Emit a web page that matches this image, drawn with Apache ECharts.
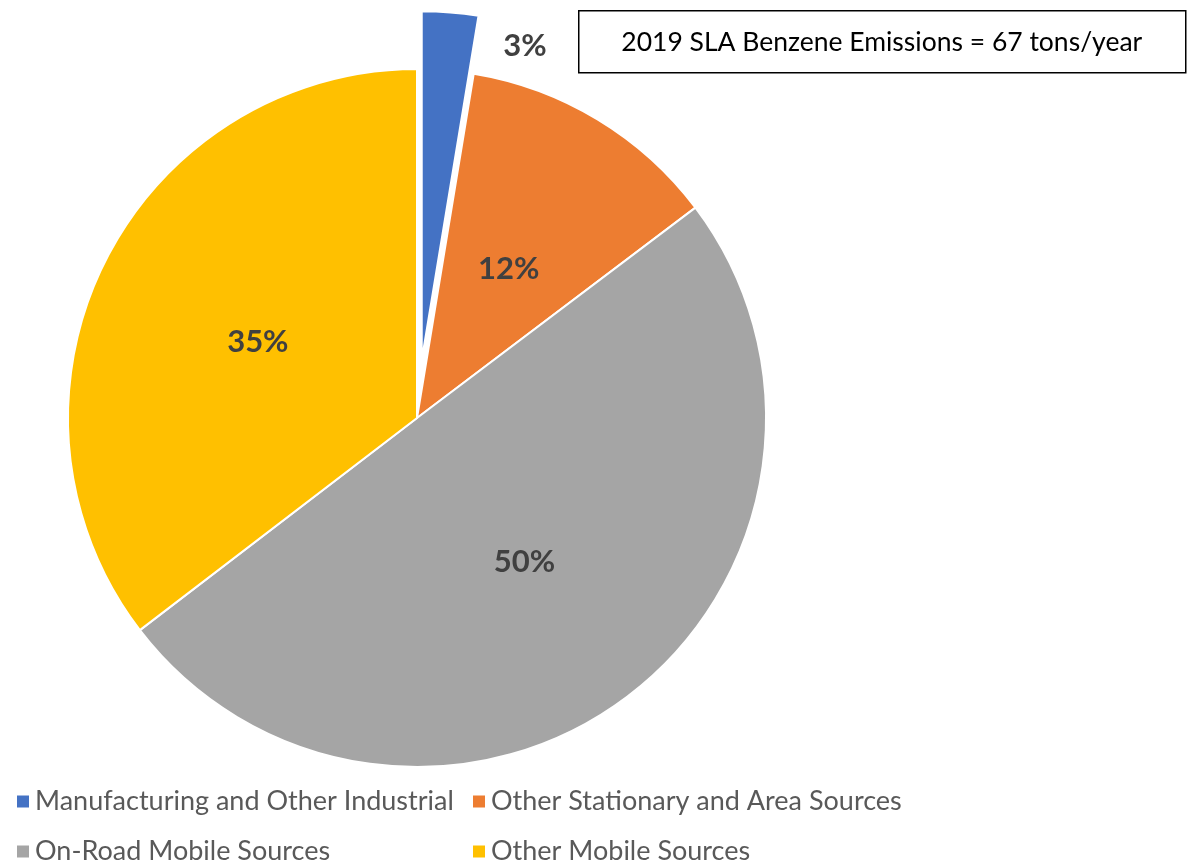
<!DOCTYPE html>
<html>
<head>
<meta charset="utf-8">
<script src="https://cdn.jsdelivr.net/npm/echarts@6/dist/echarts.min.js"></script>
<style>html,body{margin:0;padding:0;background:#fff;}#c{width:1192px;height:863px;}</style>
</head>
<body>
<div id="c"></div>
<script>
const categories = ['Manufacturing and Other Industrial', 'Other Stationary and Area Sources', 'On-Road Mobile Sources', 'Other Mobile Sources'];
const shares = [2.6, 12.1, 49.9, 35.4];
const colors = ['#4472C4', '#ED7D31', '#A5A5A5', '#FFC000'];
const boxText = '2019 SLA Benzene Emissions = 67 tons/year';

const total = shares.reduce((a, b) => a + b, 0);
const chart = echarts.init(document.getElementById('c'));
const legendText = {fontFamily: 'Lato', fontSize: 27, color: '#595959'};
const legendPos = [[10, 783], [466, 783], [10, 833], [466, 833]];
const labelFont = {fontFamily: 'Lato', fontWeight: 'bold', fontSize: 31};
chart.setOption({
  animation: false,
  color: colors,
  legend: categories.map((n, i) => ({
    data: [n], left: legendPos[i][0], top: legendPos[i][1], itemWidth: 14, itemHeight: 14,
    icon: 'rect', textStyle: legendText, selectedMode: false
  })),
  graphic: [{
    type: 'group', left: 578, top: 10,
    children: [
      {type: 'rect', shape: {x: 0, y: 0, width: 607, height: 62}, style: {fill: '#fff', stroke: '#000', lineWidth: 1.5}},
      {type: 'text', x: 303, y: 32, style: {text: boxText, fontFamily: 'Lato', fontSize: 26.5, fill: '#000', align: 'center', verticalAlign: 'middle'}}
    ]
  }, {
    type: 'text', x: 525, y: 46,
    style: Object.assign({text: Math.round(shares[0] / total * 100) + '%', fill: '#404040', align: 'center', verticalAlign: 'middle'}, labelFont)
  }],
  series: [{
    type: 'pie',
    center: [417, 418],
    radius: [0, 349],
    startAngle: 90,
    clockwise: true,
    selectedMode: 'single',
    selectedOffset: 58,
    percentPrecision: 0,
    itemStyle: {borderColor: '#fff', borderWidth: 2},
    emphasis: {disabled: true},
    label: Object.assign({show: true, position: 'inside', formatter: '{d}%', color: '#404040'}, labelFont),
    labelLine: {show: false},
    labelLayout: {dy: 3},
    data: categories.map((n, i) => ({
      name: n, value: shares[i], selected: i === 0,
      label: i === 0 ? {show: false} : undefined,
      select: i === 0 ? {label: {show: false}} : undefined
    }))
  }]
});
</script>
</body>
</html>
